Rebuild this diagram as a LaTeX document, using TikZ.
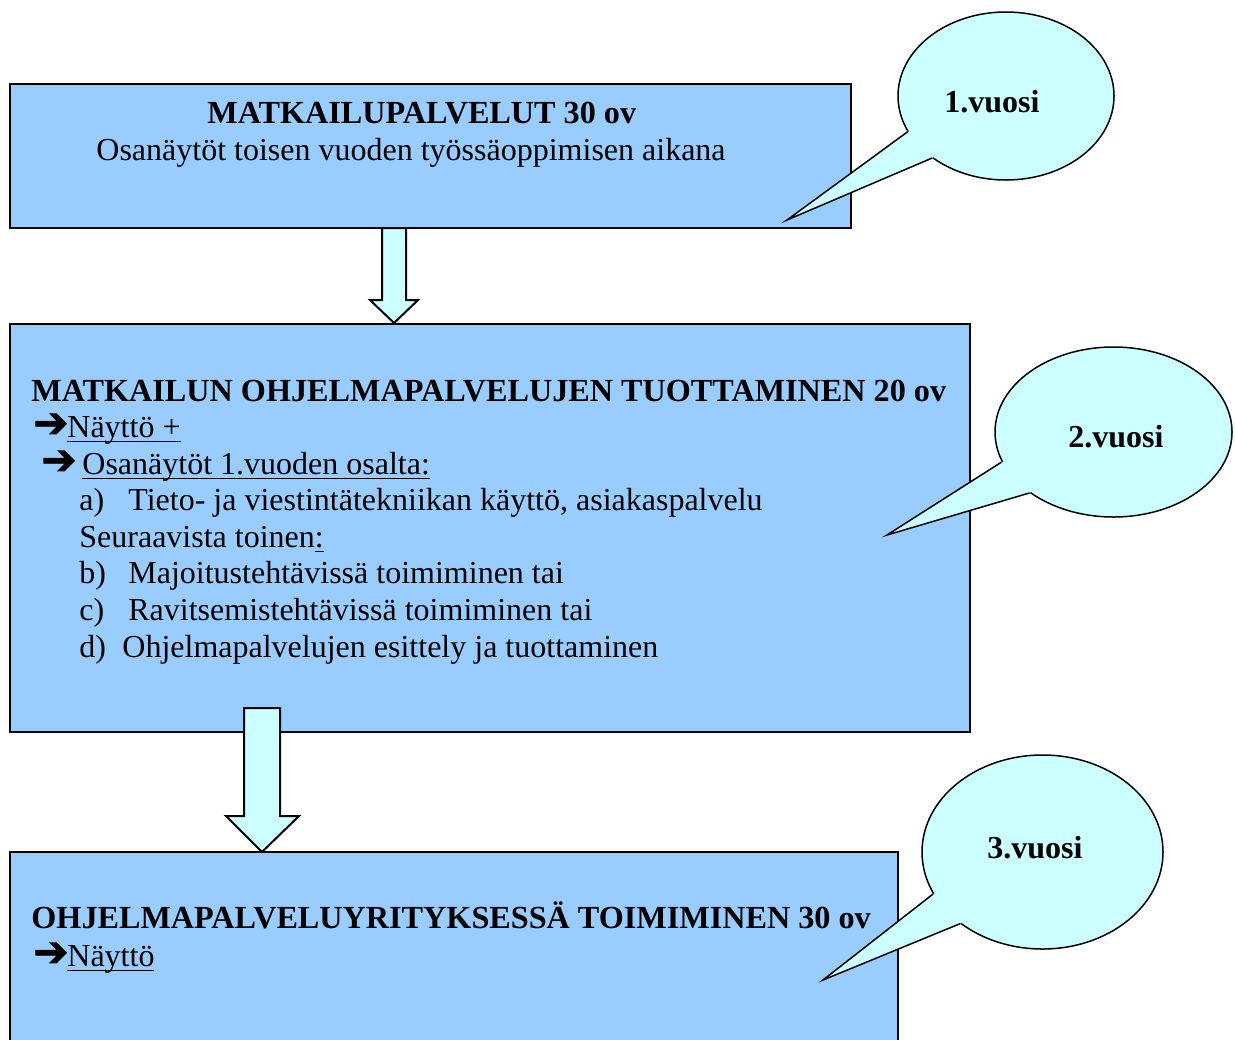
\documentclass[tikz,border=0pt]{standalone}
\usepackage{fontspec}
\setmainfont{Liberation Serif}
\newfontfamily\arrowfont[AutoFakeBold=2]{DejaVu Sans}
\usetikzlibrary{shapes.geometric}
\definecolor{boxblue}{HTML}{99CCFF}
\definecolor{paleblue}{HTML}{CCFFFF}
\newcommand\ulin[1]{\setbox0\hbox{#1}\rlap{\rule[-2.6pt]{\wd0}{0.75pt}}\box0}
\newcommand\arr{\makebox[15pt][l]{\arrowfont\bfseries\fontsize{21}{21}\selectfont ➔}}
\tikzset{
  box/.style={draw=black, line width=1pt, fill=boxblue, inner sep=0pt},
  bubble/.style={ellipse, draw=black, line width=0.75pt, fill=paleblue, inner sep=0pt},
  tail/.style={draw=black, line width=0.75pt, line join=miter},
  downarrow/.style={draw=black, line width=1pt, fill=paleblue, line join=miter},
  txt/.style={anchor=base west, inner sep=0pt, font=\fontsize{16}{18.5}\selectfont},
  head/.style={txt, font=\fontsize{16.1}{18.5}\selectfont\bfseries},
  yr/.style={anchor=base, inner sep=0pt, font=\fontsize{16}{18.5}\selectfont\bfseries},
}
\begin{document}
\begin{tikzpicture}[x=0.5pt,y=-0.5pt]
  \useasboundingbox (0,0) rectangle (1235,1039);
  \clip (0,0) rectangle (1235,1039);
  % the three study blocks
  \node[box, minimum width=420.5pt, minimum height=72pt] (b1) at (430.5,156) {};
  \node[box, minimum width=480pt, minimum height=204pt] (b2) at (490,528) {};
  \node[box, minimum width=444pt, minimum height=104pt] (b3) at (454,956) {};
  % block arrows
  \draw[downarrow] (382,228) -- (382,300) -- (370,300) -- (394,323) -- (418,300) -- (406,300) -- (406,228) -- cycle;
  \draw[downarrow] (244,708) -- (244,816) -- (226,816) -- (262,852) -- (299,816) -- (280,816) -- (280,708) -- cycle;
  % first block
  \node[head] (h1) at (207,123) {MATKAILUPALVELUT 30 ov};
  \node[txt] (s1) at (96,160) {Osanäytöt toisen vuoden työssäoppimisen aikana};
  % second block
  \node[head] (h2) at (31,401) {MATKAILUN OHJELMAPALVELUJEN TUOTTAMINEN 20 ov};
  \node[txt] (r2a) at (33,437) {\arr};
  \node[txt] (n2) at (67,437) {\ulin{Näyttö +}};
  \node[txt] (r2b) at (41,474) {\arr};
  \node[txt] (o2) at (82,474) {\ulin{Osanäytöt 1.vuoden osalta:}};
  \node[txt] (la) at (79,510) {a)};
  \node[txt] (ta) at (128,510) {Tieto- ja viestintätekniikan käyttö, asiakaspalvelu};
  \node[txt] (se) at (79,547) {Seuraavista toinen\ulin{:}};
  \node[txt] (lb) at (79,583) {b)};
  \node[txt] (tb) at (128,583) {Majoitustehtävissä toimiminen tai};
  \node[txt] (lc) at (79,620) {c)};
  \node[txt] (tc) at (128,620) {Ravitsemistehtävissä toimiminen tai};
  \node[txt] (ld) at (79,657) {d)};
  \node[txt] (td) at (122,657) {Ohjelmapalvelujen esittely ja tuottaminen};
  % third block
  \node[head] (h3) at (31,928) {OHJELMAPALVELUYRITYKSESSÄ TOIMIMINEN 30 ov};
  \node[txt] (r3) at (33,966) {\arr};
  \node[txt] (n3) at (67,966) {\ulin{Näyttö}};
  % year callouts
  \node[bubble, minimum width=108pt, minimum height=84pt] (c1) at (1006,96) {};
  \coordinate (p1) at (787,220);
  \fill[paleblue] (c1.200) -- (p1) -- (c1.220) -- (c1.center) -- cycle;
  \draw[tail] (c1.200) -- (p1) -- (c1.220);
  \node[yr] (y1) at (992,112) {1.vuosi};
  \node[bubble, minimum width=118.5pt, minimum height=85pt] (c2) at (1113.5,432) {};
  \coordinate (p2) at (887,535);
  \fill[paleblue] (c2.195) -- (p2) -- (c2.216) -- (c2.center) -- cycle;
  \draw[tail] (c2.195) -- (p2) -- (c2.216);
  \node[yr] (y2) at (1116,447) {2.vuosi};
  \node[bubble, minimum width=120.5pt, minimum height=97pt] (c3) at (1042.5,852) {};
  \coordinate (p3) at (823,980);
  \fill[paleblue] (c3.201) -- (p3) -- (c3.221) -- (c3.center) -- cycle;
  \draw[tail] (c3.201) -- (p3) -- (c3.221);
  \node[yr] (y3) at (1035,858) {3.vuosi};
\end{tikzpicture}
\end{document}
